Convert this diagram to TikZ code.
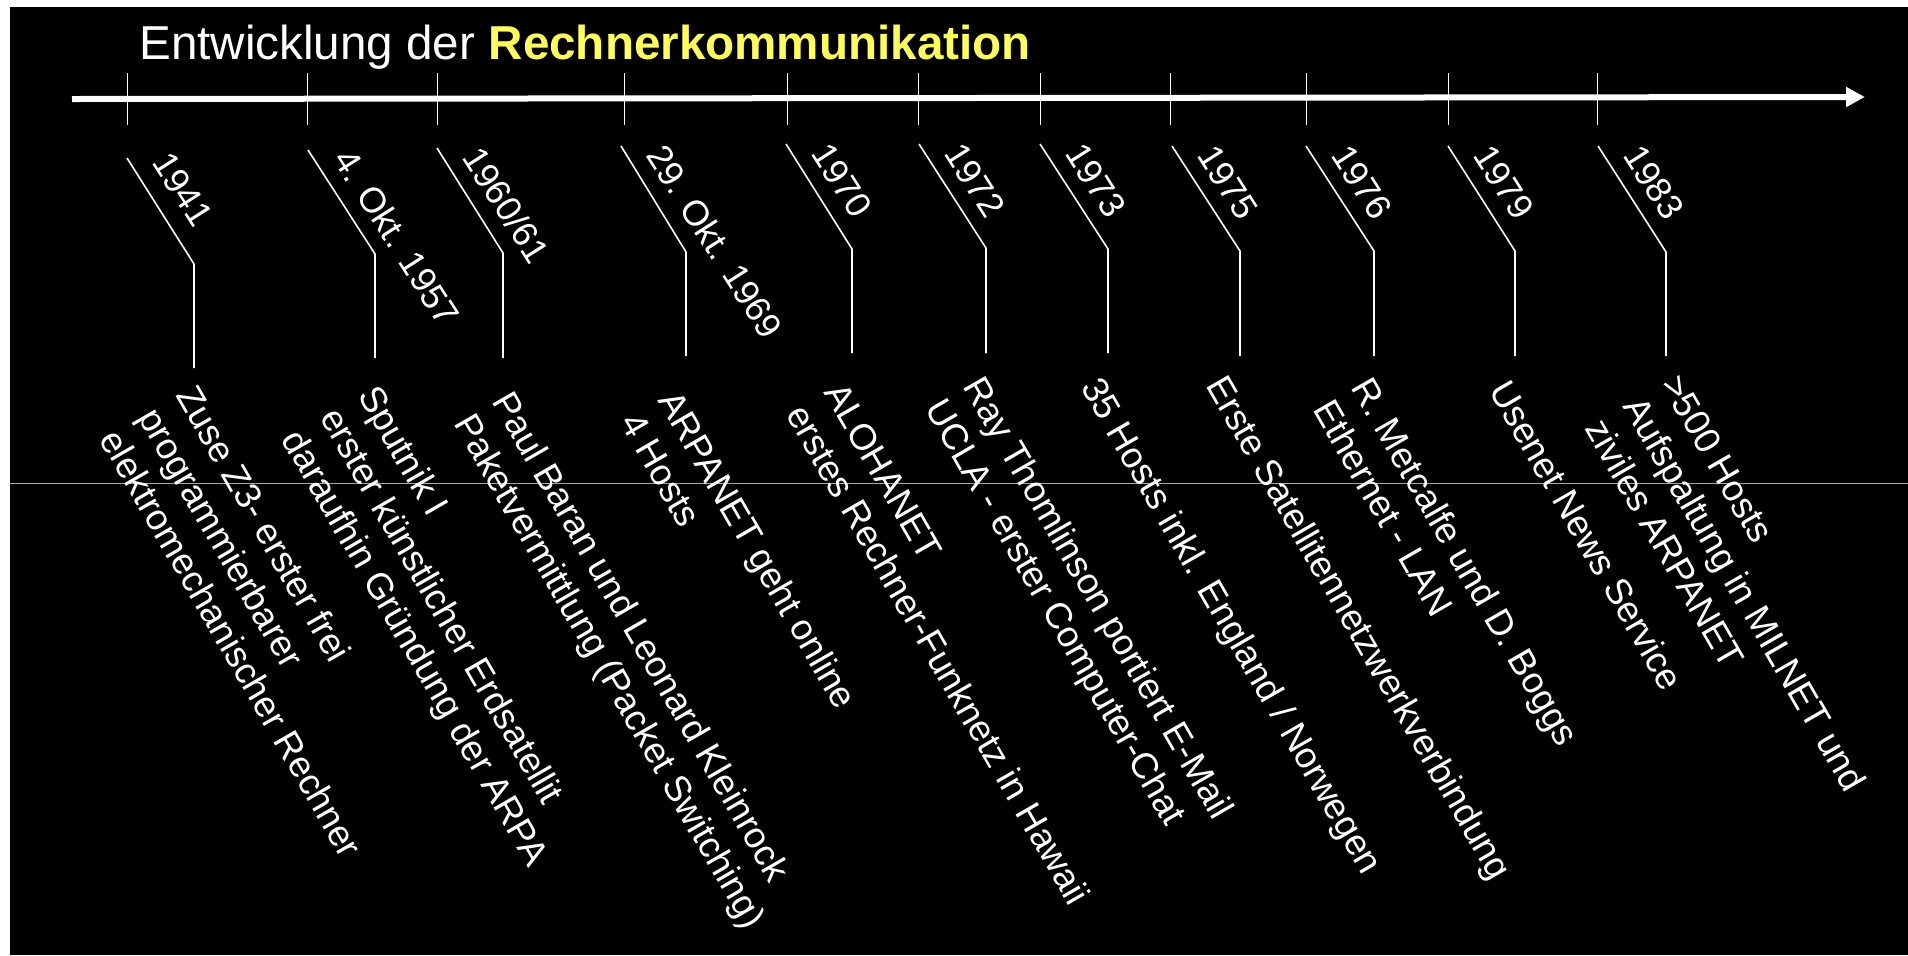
\documentclass[tikz,border=0pt]{standalone}
\usepackage{fontspec}
\setmainfont{Liberation Sans}
\usetikzlibrary{arrows.meta}
\definecolor{titleyellow}{RGB}{255,255,85}
\definecolor{rulegray}{RGB}{165,165,165}
\begin{document}
\begin{tikzpicture}[x=0.5pt,y=-0.5pt,
  axisline/.style={white, line width=3pt, -{Triangle[length=9.5pt,width=9.5pt]}},
  tickmark/.style={white, line width=0.5pt},
  leader/.style={white, line width=0.8pt, line join=miter},
  titlelbl/.style={text=white, font=\fontsize{23.8}{28}\selectfont, anchor=base west, inner sep=0pt},
  datelbl/.style={text=white, font=\fontsize{17.8}{21}\selectfont, rotate=-57.5, anchor=base west, inner sep=0pt},
  eventlbl/.style={text=white, font=\fontsize{18.3}{22}\selectfont, rotate=-60, anchor=base west, inner sep=0pt},
]
\useasboundingbox (0,0) rectangle (1908,955);
\fill[white] (0,0) rectangle (1908,955);
\fill[black] (10,7) rectangle (1908,955);
\draw[rulegray, line width=0.5pt] (10,483) -- (1908,483);

% title
\node[titlelbl] (title) at (139,59) {Entwicklung der \textcolor{titleyellow}{\bfseries Rechnerkommunikation}};

% time axis
\coordinate (axstart) at (72,99);
\coordinate (axend) at (1865,97);
\draw[axisline] (axstart) -- (axend);

% ticks
\foreach \x [count=\i] in {127,307,437,624,787,918,1040,1170,1306,1448,1597} {
  \coordinate (tt\i) at (\x,73);
  \coordinate (tb\i) at (\x,125);
  \draw[tickmark] (tt\i) -- (tb\i);
}

% leaders: start x / start y / bend x / bend y / end y
\foreach \sx/\sy/\bx/\by/\ey [count=\i] in {
  127/158/194/264/368, 308/150/375/254/358, 437/148/503/253/358,
  621/146/686/252/356, 786/144/852/249/353, 919/144/986/248/353,
  1040/144/1108/249/353, 1172/146/1240/251/356, 1306/146/1374/251/356,
  1448/146/1515/251/356, 1598/146/1666/252/356} {
  \coordinate (ls\i) at (\sx,\sy);
  \coordinate (lb\i) at (\bx,\by);
  \coordinate (le\i) at (\bx,\ey);
  \draw[leader] (ls\i) -- (lb\i) -- (le\i);
}

% dates
\node[datelbl] (d1) at (151,162) {1941};
\node[datelbl] (d2) at (332,159) {4. Okt. 1957};
\node[datelbl] (d3) at (461,157) {1960/61};
\node[datelbl] (d4) at (645,155) {29. Okt. 1969};
\node[datelbl] (d5) at (810,153) {1970};
\node[datelbl] (d6) at (943,153) {1972};
\node[datelbl] (d7) at (1064,153) {1973};
\node[datelbl] (d8) at (1196,155) {1975};
\node[datelbl] (d9) at (1330,155) {1976};
\node[datelbl] (d10) at (1472,155) {1979};
\node[datelbl] (d11) at (1622,155) {1983};

% events
\node[eventlbl] (e1) at (175,395) {\begin{tabular}[t]{@{}l@{}}Zuse Z3- erster frei\\programmierbarer\\elektromechanischer Rechner\end{tabular}};
\node[eventlbl] (e2) at (357,395) {\begin{tabular}[t]{@{}l@{}}Sputnik I\\erster künstlicher Erdsatellit\\daraufhin Gründung der ARPA\end{tabular}};
\node[eventlbl] (e3) at (491,401) {\begin{tabular}[t]{@{}l@{}}Paul Baran und Leonard Kleinrock\\Paketvermittlung (Packet Switching)\end{tabular}};
\node[eventlbl] (e4) at (657,400) {\begin{tabular}[t]{@{}l@{}}ARPANET geht online\\4 Hosts\end{tabular}};
\node[eventlbl] (e5) at (823,392) {\begin{tabular}[t]{@{}l@{}}ALOHANET\\erstes Rechner-Funknetz in Hawaii\end{tabular}};
\node[eventlbl] (e6) at (962,386) {\begin{tabular}[t]{@{}l@{}}Ray Thomlinson portiert E-Mail\\UCLA - erster Computer-Chat\end{tabular}};
\node[eventlbl] (e7) at (1080,387) {\begin{tabular}[t]{@{}l@{}}35 Hosts inkl. England / Norwegen\end{tabular}};
\node[eventlbl] (e8) at (1205,385) {\begin{tabular}[t]{@{}l@{}}Erste Satellitennetzwerkverbindung\end{tabular}};
\node[eventlbl] (e9) at (1350,387) {\begin{tabular}[t]{@{}l@{}}R. Metcalfe und D. Boggs\\Ethernet - LAN\end{tabular}};
\node[eventlbl] (e10) at (1488,390) {\begin{tabular}[t]{@{}l@{}}Usenet News Service\end{tabular}};
\node[eventlbl] (e11) at (1660,384) {\begin{tabular}[t]{@{}l@{}}>500 Hosts\\Aufspaltung in MILNET und\\ziviles ARPANET\end{tabular}};
\end{tikzpicture}
\end{document}
